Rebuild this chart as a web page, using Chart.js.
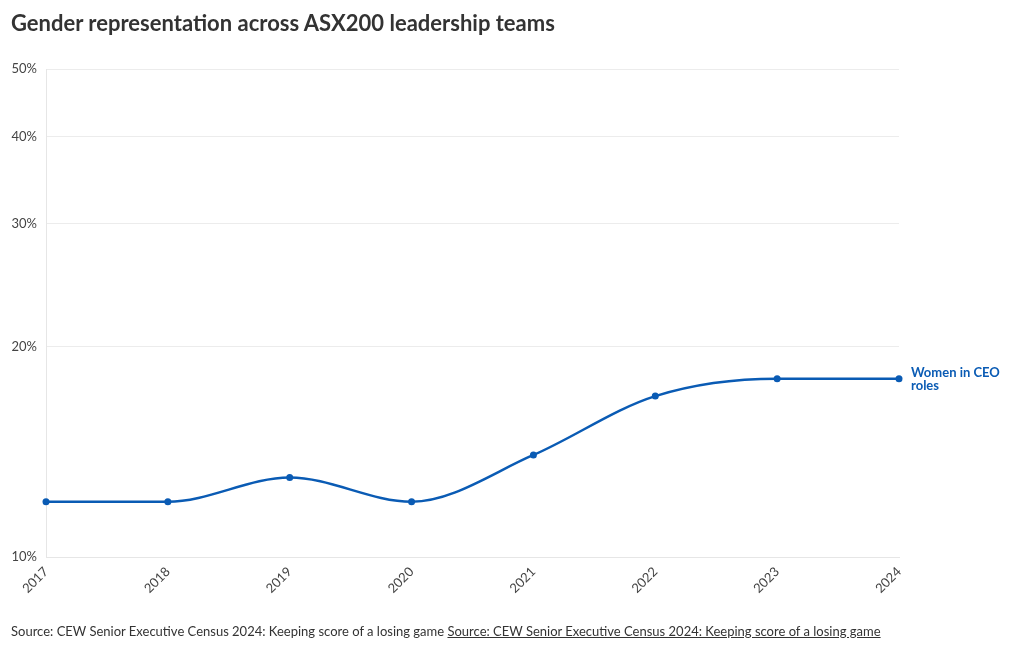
<!DOCTYPE html>
<html>
<head>
<meta charset="utf-8">
<script src="https://cdn.jsdelivr.net/npm/chart.js@4"></script>
<style>
  body { margin: 0; background: #fff; font-family: Lato, "Noto Sans", sans-serif; color: #333; }
  #wrap { position: relative; width: 1020px; height: 650px; }
  h1 { position: absolute; left: 11px; top: 9px; margin: 0; font-size: 22px; font-weight: 700; color: #333; }
  #foot { position: absolute; left: 11px; top: 623px; font-size: 13px; color: #333; }
  #foot a { color: #333; text-decoration: underline; }
  canvas { position: absolute; left: 0; top: 0; }
</style>
</head>
<body>
<div id="wrap">
  <canvas id="chart" width="1020" height="650"></canvas>
  <h1>Gender representation across ASX200 leadership teams</h1>
  <div id="foot">Source: CEW Senior Executive Census 2024: Keeping score of a losing game <a>Source: CEW Senior Executive Census 2024: Keeping score of a losing game</a></div>
</div>
<script>
const years = ['2017', '2018', '2019', '2020', '2021', '2022', '2023', '2024'];
const womenCeo = [12, 12, 13, 12, 14, 17, 18, 18];
const yTicks = [10, 20, 30, 40, 50];
const seriesLabel = ['Women in CEO', 'roles'];
const blue = '#0a5bb4';

const endLabel = {
  id: 'endLabel',
  afterDatasetsDraw(chart) {
    const pt = chart.getDatasetMeta(0).data[womenCeo.length - 1];
    const ctx = chart.ctx;
    ctx.save();
    ctx.font = 'bold 13px Lato, "Noto Sans", sans-serif';
    ctx.fillStyle = blue;
    ctx.textBaseline = 'middle';
    ctx.fillText(seriesLabel[0], pt.x + 12, pt.y - 6);
    ctx.fillText(seriesLabel[1], pt.x + 12, pt.y + 7);
    ctx.restore();
  }
};

new Chart(document.getElementById('chart'), {
  type: 'line',
  data: {
    labels: years,
    datasets: [{
      label: 'Women in CEO roles',
      data: womenCeo,
      borderColor: blue,
      backgroundColor: blue,
      borderWidth: 2.5,
      pointRadius: 3.5,
      pointBorderWidth: 0,
      cubicInterpolationMode: 'monotone'
    }]
  },
  options: {
    responsive: false,
    animation: false,
    layout: { padding: { left: 0, right: 121, top: 69, bottom: 48 } },
    plugins: { legend: { display: false }, tooltip: { enabled: false } },
    scales: {
      x: {
        offset: false,
        afterFit(scale) { scale.height = 45; },
        grid: { display: false, drawTicks: true, tickLength: 5, color: '#e6e6e6' },
        border: { color: '#e6e6e6' },
        ticks: {
          color: '#444', font: { family: 'Lato, "Noto Sans", sans-serif', size: 13 },
          maxRotation: 45, minRotation: 45, padding: 2
        }
      },
      y: {
        type: 'logarithmic',
        min: 10,
        max: 50,
        afterFit(scale) { scale.width = 46; },
        afterBuildTicks(scale) { scale.ticks = yTicks.map(v => ({ value: v })); },
        grid: { color: '#ececec', drawTicks: false },
        border: { display: true, color: '#e6e6e6' },
        ticks: {
          color: '#444', font: { family: 'Lato, "Noto Sans", sans-serif', size: 13 },
          padding: 9,
          callback: v => v + '%'
        }
      }
    }
  },
  plugins: [endLabel]
});
</script>
</body>
</html>
